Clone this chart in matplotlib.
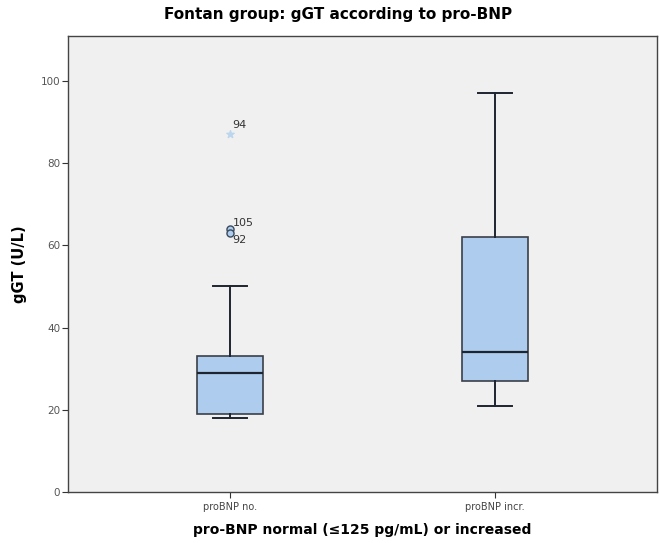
import matplotlib.pyplot as plt

plt.rcParams["font.family"] = ["Liberation Sans Narrow", "DejaVu Sans"]

groups = ["proBNP no.", "proBNP incr."]
whisker_low = [18, 21]
q1 = [19, 27]
median = [29, 34]
q3 = [33, 62]
whisker_high = [50, 97]

# outliers / extremes of the normal group, labelled with case ids
outlier_values = [64, 63]
outlier_ids = ["105", "92"]
extreme_values = [87]
extreme_ids = ["94"]

box_color = "#aecdee"
line_color = "#1e2530"

fig = plt.figure(figsize=(6.6, 5.43), dpi=100)
ax = fig.add_axes([0.103, 0.094, 0.892, 0.840])
ax.set_facecolor("#f0f0f0")

stats = []
for i, name in enumerate(groups):
    stats.append({
        "label": name,
        "whislo": whisker_low[i],
        "q1": q1[i],
        "med": median[i],
        "q3": q3[i],
        "whishi": whisker_high[i],
        "fliers": [],
    })

ax.bxp(
    stats,
    positions=[1, 2],
    widths=0.25,
    patch_artist=True,
    showfliers=False,
    boxprops=dict(facecolor=box_color, edgecolor="#3a3f47", linewidth=1.2),
    medianprops=dict(color=line_color, linewidth=1.6),
    whiskerprops=dict(color=line_color, linewidth=1.4),
    capprops=dict(color=line_color, linewidth=1.4),
    capwidths=0.13,
)

ax.scatter([1] * len(outlier_values), outlier_values, s=26, facecolor=box_color,
           edgecolor="#3a4a5c", linewidth=1.0, zorder=3)
ax.scatter([1] * len(extreme_values), extreme_values, s=30, marker="*",
           color="#bcd6ee", zorder=3)

ax.text(1.01, 87 + 1.0, extreme_ids[0], fontsize=8, color="#333333",
        ha="left", va="bottom")
ax.text(1.01, 64 + 0.3, outlier_ids[0], fontsize=8, color="#333333",
        ha="left", va="bottom")
ax.text(1.01, 63 - 0.5, outlier_ids[1], fontsize=8, color="#333333",
        ha="left", va="top")

ax.set_xlim(0.389, 2.611)
ax.set_ylim(0, 111)
ax.set_yticks([0, 20, 40, 60, 80, 100])
ax.tick_params(axis="y", labelsize=7.5, labelcolor="#555555", length=4,
               color="#333333", pad=1.5)
ax.tick_params(axis="x", labelsize=7, labelcolor="#444444", length=4,
               color="#333333", pad=3)
ax.set_xticks([1, 2])
ax.set_xticklabels(groups)

for side in ax.spines.values():
    side.set_color("#444444")
    side.set_linewidth(1.0)

fig.text(0.512, 0.974, "Fontan group: gGT according to pro-BNP", fontsize=11,
         fontweight="bold", ha="center", va="center")
ax.set_xlabel("pro-BNP normal (\u2264125 pg/mL) or increased", fontsize=10,
              fontweight="bold", labelpad=8)
ax.set_ylabel("gGT (U/L)", fontsize=10.5, fontweight="bold", labelpad=10)

fig.savefig("out.png", dpi=100)
